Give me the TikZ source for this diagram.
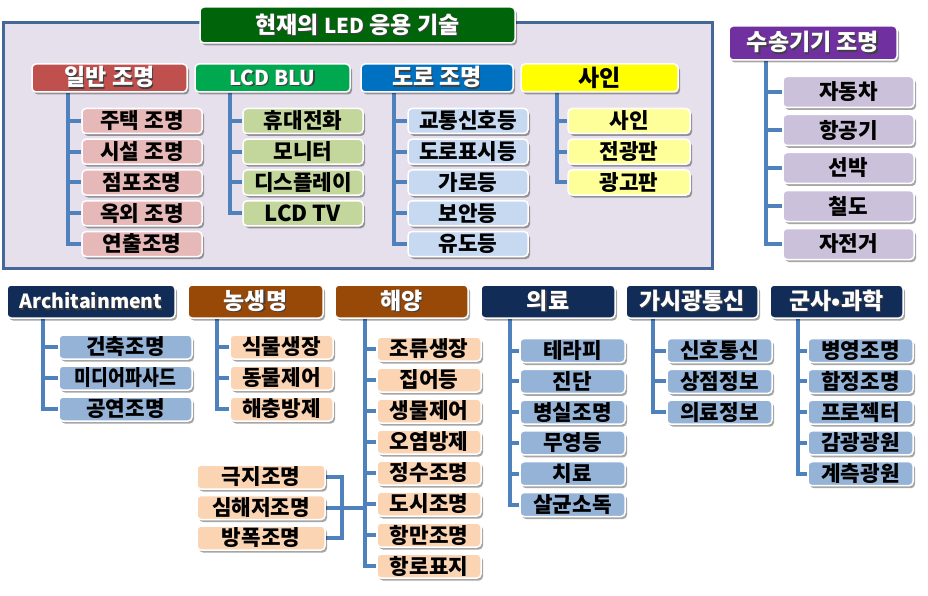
\documentclass[tikz,border=0pt]{standalone}
\usepackage{fontspec}
\setmainfont{Noto Sans CJK KR}
\usetikzlibrary{shadows}
\pgfdeclarelayer{bg}
\pgfsetlayers{bg,main}
\definecolor{frameline}{HTML}{46679A}
\definecolor{framefill}{HTML}{E6E0EC}
\definecolor{conncol}{HTML}{4F81BD}
\definecolor{titlegreen}{HTML}{00640A}
\definecolor{hred}{HTML}{C0504D}
\definecolor{hgreen}{HTML}{00A84F}
\definecolor{hblue}{HTML}{0070C0}
\definecolor{hyellow}{HTML}{FFFF00}
\definecolor{hpurple}{HTML}{7030A0}
\definecolor{hnavy}{HTML}{102C57}
\definecolor{hbrown}{HTML}{984807}
\definecolor{lpink}{HTML}{E6B9B8}
\definecolor{lgreen}{HTML}{C3D69B}
\definecolor{lblue}{HTML}{C6D9F1}
\definecolor{lyellow}{HTML}{FFFF99}
\definecolor{llav}{HTML}{CCC1DA}
\definecolor{mblue}{HTML}{95B3D7}
\definecolor{lpeach}{HTML}{FBD4B4}
\newcommand{\latinsize}[1]{{\fontsize{20.5}{22}\selectfont #1}}
\newcommand{\shtxt}[1]{\makebox[0pt][l]{\hspace{1.2pt}\raisebox{-1.2pt}{\color{black!75}#1}}#1}
\tikzset{
  box/.style={draw=white, line width=1.5pt, rounded corners=4pt, inner sep=0pt,
    drop shadow={shadow xshift=2pt, shadow yshift=-2.5pt, opacity=0.35, fill=black}},
  hdr/.style={box, text=white, font=\fontsize{23}{25}\selectfont\bfseries},
  leaf/.style={box, text=black, font=\fontsize{21.3}{23}\selectfont\bfseries},
  conn/.style={draw=conncol, line width=4pt}
}
\begin{document}
\begin{tikzpicture}[x=1pt, y=-1pt]
\useasboundingbox (0,0) rectangle (928,596);

% ---- headers row 1
\node[hdr, fill=titlegreen, minimum width=315pt, minimum height=36pt] (title) at (357.5,25) {\shtxt{현재의 \latinsize{LED} 응용 기술}};
\node[hdr, fill=hred, minimum width=155pt, minimum height=28pt] (g1) at (109.5,78) {\shtxt{일반 조명}};
\node[hdr, fill=hgreen, minimum width=155pt, minimum height=28pt] (g2) at (272.5,78) {\shtxt{\latinsize{LCD BLU}}};
\node[hdr, fill=hblue, minimum width=152pt, minimum height=28pt] (g3) at (437,78) {\shtxt{도로 조명}};
\node[hdr, fill=hyellow, text=black, minimum width=157pt, minimum height=28pt] (g4) at (599.5,78) {사인};
\node[hdr, fill=hpurple, minimum width=168pt, minimum height=34pt] (g5) at (813,43) {\shtxt{수송기기 조명}};

% ---- children row 1
\foreach \t [count=\i] in {주택 조명, 시설 조명, 점포조명, 옥외 조명, 연출조명}
  \node[leaf, fill=lpink, minimum width=120pt, minimum height=25pt] (a\i) at (142,{121+30.75*(\i-1)}) {\t};
\foreach \t [count=\i] in {휴대전화, 모니터, 디스플레이, {\fontsize{22}{24}\selectfont LCD TV}}
  \node[leaf, fill=lgreen, minimum width=120pt, minimum height=25pt] (b\i) at (303,{121+30.75*(\i-1)}) {\t};
\foreach \t [count=\i] in {교통신호등, 도로표시등, 가로등, 보안등, 유도등}
  \node[leaf, fill=lblue, minimum width=120pt, minimum height=25pt] (c\i) at (468,{121+30.75*(\i-1)}) {\t};
\foreach \t [count=\i] in {사인, 전광판, 광고판}
  \node[leaf, fill=lyellow, minimum width=122pt, minimum height=25pt] (d\i) at (629,{121+30.75*(\i-1)}) {\t};
\foreach \t [count=\i] in {자동차, 항공기, 선박, 철도, 자전거}
  \node[leaf, fill=llav, minimum width=131pt, minimum height=31pt] (e\i) at (848.5,{92+38*(\i-1)}) {\t};

% ---- headers row 2
\node[hdr, fill=hnavy, minimum width=168pt, minimum height=33pt, font=\fontsize{19.5}{22}\selectfont\bfseries] (h1) at (91,301.5) {\shtxt{Architainment}};
\node[hdr, fill=hbrown, minimum width=135pt, minimum height=33pt] (h2) at (255.5,301.5) {\shtxt{농생명}};
\node[hdr, fill=hbrown, minimum width=133pt, minimum height=33pt] (h3) at (401.5,301.5) {\shtxt{해양}};
\node[hdr, fill=hnavy, minimum width=134pt, minimum height=33pt] (h4) at (548,301.5) {\shtxt{의료}};
\node[hdr, fill=hnavy, minimum width=132pt, minimum height=33pt] (h5) at (692,301.5) {\shtxt{가시광통신}};
\node[hdr, fill=hnavy, minimum width=133pt, minimum height=33pt] (h6) at (836.5,301.5) {\shtxt{군사•과학}};

% ---- children row 2
\foreach \t [count=\i] in {건축조명, \scalebox{0.86}[1]{미디어파사드}, 공연조명}
  \node[leaf, fill=mblue, minimum width=133pt, minimum height=24pt] (p\i) at (125.5,{347+31*(\i-1)}) {\t};
\foreach \t [count=\i] in {식물생장, 동물제어, 해충방제}
  \node[leaf, fill=lpeach, minimum width=103pt, minimum height=24pt] (q\i) at (281.5,{347+31*(\i-1)}) {\t};
\foreach \t [count=\i] in {조류생장, 집어등, 생물제어, 오염방제, 정수조명, 도시조명, 항만조명, 항로표지}
  \node[leaf, fill=lpeach, minimum width=104pt, minimum height=24pt] (r\i) at (429,{349+31*(\i-1)}) {\t};
\foreach \t [count=\i] in {극지조명, 심해저조명, 방폭조명}
  \node[leaf, fill=lpeach, minimum width=128pt, minimum height=24pt] (s\i) at (261,{477+30.5*(\i-1)}) {\t};
\foreach \t [count=\i] in {테라피, 진단, 병실조명, 무영등, 치료, 살균소독}
  \node[leaf, fill=mblue, minimum width=105pt, minimum height=24pt] (t\i) at (572.5,{350.5+30.8*(\i-1)}) {\t};
\foreach \t [count=\i] in {신호통신, 상점정보, 의료정보}
  \node[leaf, fill=mblue, minimum width=105pt, minimum height=24pt] (u\i) at (719.5,{350.5+30.8*(\i-1)}) {\t};
\foreach \t [count=\i] in {병영조명, 함정조명, 프로젝터, 감광광원, 계측광원}
  \node[leaf, fill=mblue, minimum width=105pt, minimum height=24pt] (v\i) at (860.5,{350.5+30.8*(\i-1)}) {\t};

% ---- background: frame and connectors
\begin{pgfonlayer}{bg}
  \draw[draw=frameline, fill=framefill, line width=3pt] (3,23) rectangle (712,268);
  \foreach \i in {1,...,5} \draw[conn] (68,0 |- g1.south) |- (a\i.west);
  \foreach \i in {1,...,4} \draw[conn] (230,0 |- g2.south) |- (b\i.west);
  \foreach \i in {1,...,5} \draw[conn] (394,0 |- g3.south) |- (c\i.west);
  \foreach \i in {1,...,3} \draw[conn] (557,0 |- g4.south) |- (d\i.west);
  \foreach \i in {1,...,5} \draw[conn] (766,0 |- g5.south) |- (e\i.west);
  \foreach \i in {1,...,3} \draw[conn] (43,0 |- h1.south) |- (p\i.west);
  \foreach \i in {1,...,3} \draw[conn] (217,0 |- h2.south) |- (q\i.west);
  \foreach \i in {1,...,8} \draw[conn] (365,0 |- h3.south) |- (r\i.west);
  \foreach \i in {1,...,6} \draw[conn] (510,0 |- h4.south) |- (t\i.west);
  \foreach \i in {1,...,3} \draw[conn] (653,0 |- h5.south) |- (u\i.west);
  \foreach \i in {1,...,5} \draw[conn] (798,0 |- h6.south) |- (v\i.west);
  \coordinate (sj) at (365,0 |- s2.east);
  \draw[conn] (s1.east) -| (342,0 |- s3.east) -- (s3.east);
  \draw[conn] (s2.east) -- (sj);
\end{pgfonlayer}
\end{tikzpicture}
\end{document}
